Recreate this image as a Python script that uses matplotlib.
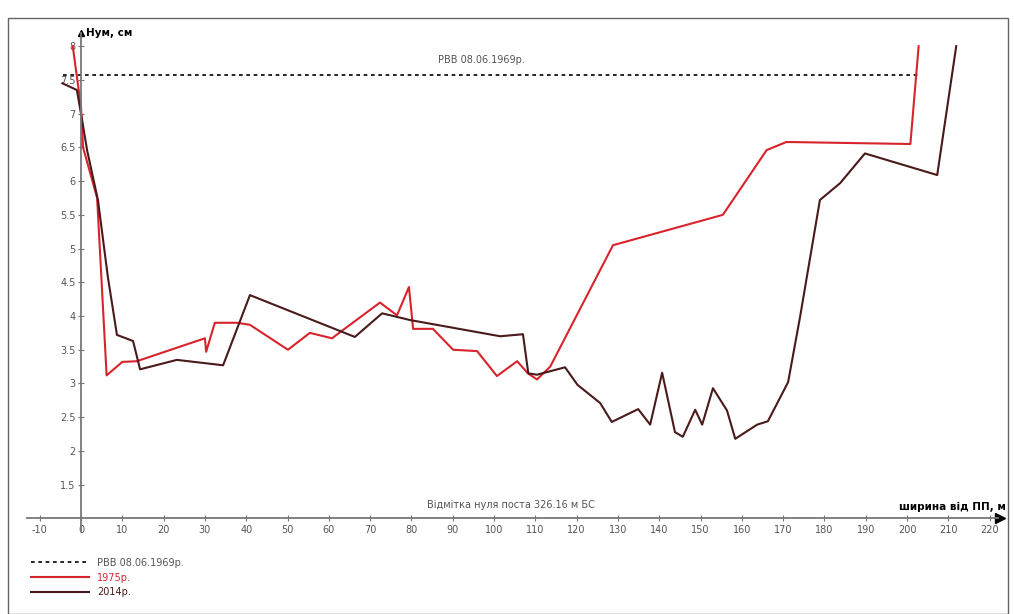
import numpy as np
import matplotlib
matplotlib.use("Agg")
import matplotlib.pyplot as plt
from matplotlib.patches import Rectangle

# --- Data ---
x_1975 = [-2.0, 0.0, 0.5, 3.9, 6.2, 10.0, 13.5, 30.0, 30.3, 32.4, 37.8, 40.9, 50.1, 55.4,
          60.8, 62.7, 72.4, 76.5, 79.4, 80.4, 85.2, 90.1, 95.9, 100.7, 105.6, 108.2,
          110.4, 113.6, 128.8, 155.4, 166.0, 170.8, 200.8, 202.8]
y_1975 = [8.0, 7.1, 6.5, 5.75, 3.12, 3.32, 3.33, 3.67, 3.47, 3.9, 3.9, 3.87, 3.5, 3.75,
          3.67, 3.76, 4.2, 4.01, 4.43, 3.81, 3.81, 3.5, 3.48, 3.11, 3.33, 3.15,
          3.06, 3.25, 5.05, 5.5, 6.46, 6.58, 6.55, 8.0]

x_2014 = [-4.5, -1.0, 0.0, 1.5, 4.1, 6.5, 8.7, 12.6, 14.3, 23.2, 34.4, 40.9, 66.3, 72.9,
          79.7, 101.5, 107.0, 108.3, 110.4, 117.2, 120.2, 125.7, 128.5, 134.9, 137.8,
          140.7, 143.8, 145.7, 148.7, 150.4, 153.0, 156.4, 158.4, 163.7, 166.3, 171.2,
          174.1, 178.9, 183.8, 189.8, 207.3, 211.9]
y_2014 = [7.45, 7.35, 7.0, 6.45, 5.72, 4.58, 3.72, 3.63, 3.21, 3.35, 3.27, 4.31, 3.69, 4.04,
          3.94, 3.7, 3.73, 3.15, 3.13, 3.24, 2.98, 2.71, 2.43, 2.62, 2.39,
          3.16, 2.28, 2.21, 2.61, 2.39, 2.93, 2.6, 2.18, 2.39, 2.44, 3.02,
          3.99, 5.72, 5.97, 6.41, 6.09, 8.0]

rvv_level = 7.57
rvv_span = [-4.4, 202.8]

x_ticks = list(range(-10, 230, 10))
y_ticks = [1.5, 2, 2.5, 3, 3.5, 4, 4.5, 5, 5.5, 6, 6.5, 7, 7.5, 8]
y_tick_labels = ["1.5", "2", "2.5", "3", "3.5", "4", "4.5", "5", "5.5", "6", "6.5", "7", "7.5", "8"]

label_rvv = "РВВ 08.06.1969р."
label_1975 = "1975р."
label_2014 = "2014р."

FONT = ["Liberation Sans Narrow", "DejaVu Sans"]
plt.rcParams["font.family"] = FONT

W, H = 1014, 614
fig = plt.figure(figsize=(W / 100, H / 100), dpi=100)

# frame around the picture
fig.patches.append(Rectangle((8 / W, 0), 1000 / W, (H - 18) / H, transform=fig.transFigure,
                             fill=False, edgecolor="#666666", linewidth=1.0))

# axes placed so that x=0 sits at px 81 and y=6 at px 181
ax = fig.add_axes([30 / W, (H - 540) / H, 970 / W, 510 / H])
ax.set_xlim(-12.35, 222.5)
ax.set_ylim(0.68, 8.24)
ax.patch.set_alpha(0)

red = "#d8232c"
dark = "#4a1a1a"

ax.hlines(rvv_level, rvv_span[0], rvv_span[1], colors="black", linestyles=(0, (2.2, 2.2)),
          linewidth=1.2, label=label_rvv)
ax.plot(x_1975, y_1975, color=red, linewidth=1.5, label=label_1975)
ax.plot(x_2014, y_2014, color=dark, linewidth=1.5, label=label_2014)

# --- axes through the origin ---
for s in ["top", "right"]:
    ax.spines[s].set_visible(False)
ax.spines["left"].set_position(("data", 0))
ax.spines["bottom"].set_position(("data", 1.0))
ax.spines["left"].set_bounds(0.82, 8.2)
ax.spines["bottom"].set_bounds(-13, 222)
for s in ["left", "bottom"]:
    ax.spines[s].set_color("#777777")
    ax.spines[s].set_linewidth(1.3)
ax.spines["bottom"].set_clip_on(False)
ax.plot([222.5], [1.0], marker=">", color="black", markersize=7, clip_on=False)
ax.plot([0], [8.2], marker="^", color="black", markersize=5, clip_on=False)

ax.set_xticks(x_ticks)
ax.set_xticklabels([str(v) for v in x_ticks])
ax.set_yticks(y_ticks)
ax.set_yticklabels(y_tick_labels)
ax.tick_params(axis="both", direction="inout", length=4, width=0.8, color="#777777",
               labelsize=7, labelcolor="#555555")
ax.tick_params(axis="x", pad=3)
ax.tick_params(axis="y", pad=2)

# --- texts ---
ax.text(97, 7.72, label_rvv, fontsize=7, color="#555555", ha="center", va="bottom")
ax.text(104, 1.12, "Відмітка нуля поста 326.16 м БС", fontsize=7, color="#555555",
        ha="center", va="bottom")
ax.text(224, 1.1, "ширина від ПП, м", fontsize=7.5, fontweight="bold", color="black",
        ha="right", va="bottom", clip_on=False)
ax.text(1.3, 8.2, "Нум, см", fontsize=7.5, fontweight="bold", color="black",
        ha="left", va="center", clip_on=False)

# --- legend, bottom left ---
fig.legend(loc="upper left", bbox_to_anchor=(22 / W, (H - 549) / H), frameon=False,
           fontsize=7, handlelength=6.0, handletextpad=0.8, labelspacing=0.5,
           labelcolor=["#555555", red, dark])

fig.savefig("out.png", dpi=100)
